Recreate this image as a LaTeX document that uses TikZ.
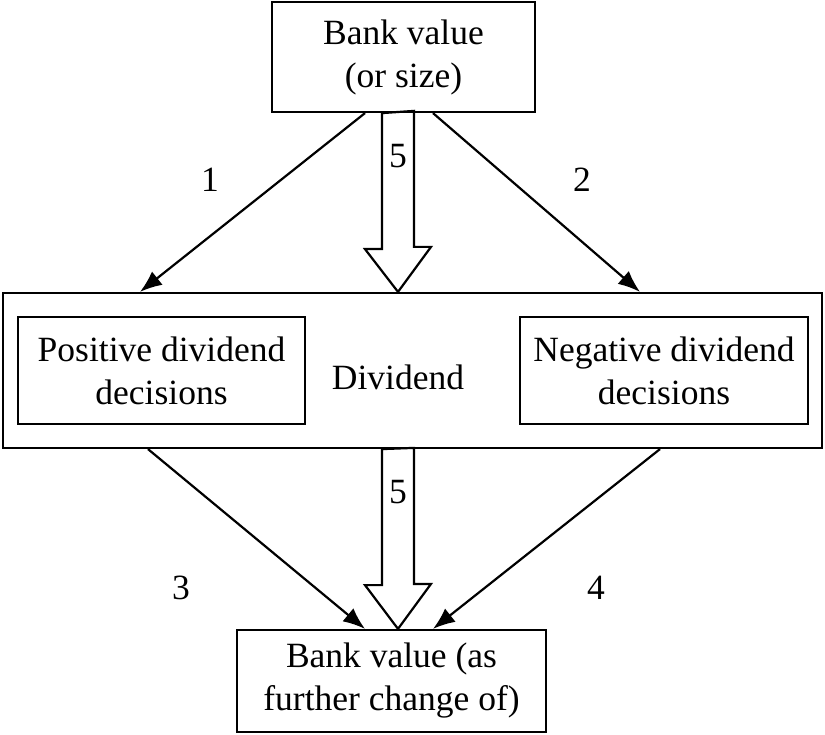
\documentclass[tikz,border=0pt]{standalone}
\usepackage{fontspec}
\setmainfont{Liberation Serif}
\usetikzlibrary{arrows.meta, positioning}

\begin{document}
\begin{tikzpicture}[
    x=1pt, y=-1pt,
    every node/.append style={font=\fontsize{35.5}{43}\selectfont},
    box/.style={draw, line width=2.2pt, align=center, inner sep=0},
    link/.style={line width=2.2pt, -{Latex[length=22pt, width=17pt]}},
    hollow/.style={draw, line width=2.2pt, line join=miter},
  ]
  \useasboundingbox (0,0) rectangle (825,735);

  \node [box, minimum width=263, minimum height=110] (top) at (403.5,57) {Bank value\\(or size)};
  \node [box, minimum width=819, minimum height=155] (dividend) at (412.5,370.5) {};
  \node (divtext) at (398,377) {Dividend};
  \node [box, minimum width=287, minimum height=107] (pos) at (161.5,370.5) {Positive dividend\\decisions};
  \node [box, minimum width=288, minimum height=107] (neg) at (664,370.5) {Negative dividend\\decisions};
  \node [box, minimum width=309, minimum height=102] (bottom) at (391.5,681) {Bank value (as\\further change of)};

  \coordinate (mid) at (398,0);

  % Thin arrows
  \draw [link] ([xshift=-38.5]top.south) -- ([xshift=-272.5]dividend.north);
  \draw [link] ([xshift=29.5]top.south) -- ([xshift=227.5]dividend.north);
  \draw [link] ([xshift=-264.5]dividend.south) -- ([xshift=-26.5]bottom.north);
  \draw [link] ([xshift=247.5]dividend.south) -- ([xshift=41.5]bottom.north);
  \node (one) at (210,180) {1};
  \node (two) at (582,180) {2};
  \node (three) at (181,588) {3};
  \node (four) at (596,588) {4};

  % Hollow arrows
  \foreach \a/\b/\n in {top/dividend/a, dividend/bottom/b}{%
    \draw [hollow] (\a.south -| mid) ++(-16,0) -- ++(0,136) -- ++(-17,0) -- (\b.north -| mid)
      -- ++(33,-45) -- ++(-17,0) -- ++(0,-136) -- cycle;
    \node (five\n) at ([yshift=-43]\a.south -| mid) {5};
  };
\end{tikzpicture}
\end{document}
